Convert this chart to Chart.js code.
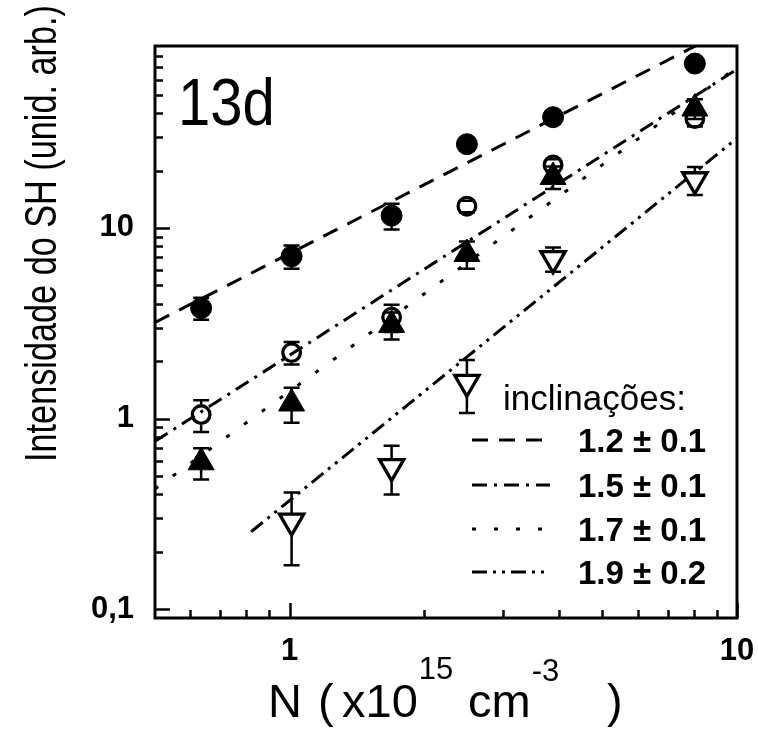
<!DOCTYPE html>
<html>
<head>
<meta charset="utf-8">
<script src="https://cdn.jsdelivr.net/npm/chart.js@4/dist/chart.umd.min.js"></script>
<style>
  html, body { margin: 0; padding: 0; background: #fff; }
  canvas { display: block; }
</style>
</head>
<body>
<canvas id="chart" width="758" height="729"></canvas>
<script>
// concentration N (x10^15 cm^-3) of each sample
const nValues = [0.634, 1.01, 1.69, 2.49, 3.88, 8.05];

// SH intensity (arb. units) and error for each symbol series
const solidCircle = [3.8, 7.1, 11.6, 27.5, 38.1, 72.8];
const solidCircleErr = [0.5, 1.0, 1.8, 2.0, 3.0, 5.0];
const openCircle = [1.05, 2.22, 3.4, 13.0, 21.4, 37.5];
const openCircleErr = [0.2, 0.3, 0.55, 0.9, 1.5, 3.5];
const solidTriangle = [0.59, 1.2, 3.1, 7.3, 18.5, 42.3];
const solidTriangleErr = [0.11, 0.25, 0.5, 1.2, 2.5, 5.0];
// the down triangles start at the second sample
const downTriangle = [0.29, 0.56, 1.55, 6.9, 17.9];
const downTriangleErr = [0.12, 0.16, 0.48, 1.0, 3.0];

// power-law fits y = amp * N^slope
const slopes = [1.2, 1.5, 1.7, 1.9];
const slopeErr = [0.1, 0.1, 0.1, 0.2];
const fitAmp = [7.34, 2.15, 1.39, 0.372];
const fitFrom = [0.5, 0.5, 0.5, 0.82];
const fitTo = [10, 10, 10, 10];
const fitDash = [[16, 11], [15, 7, 3, 7], [4, 18], [15, 6, 3, 6, 3, 6]];

const xTickVals = [1, 10];
const xTickText = ['1', '10'];
const yTickVals = [0.1, 1, 10];
const yTickText = ['0,1', '1', '10'];

const FONT = '"Liberation Sans", Arial, Helvetica, sans-serif';

function pts(xs, ys) {
  return ys.map((y, i) => ({ x: xs[i], y: y }));
}

function tickLabel(vals, texts) {
  return function (v) {
    for (let i = 0; i < vals.length; i++) {
      if (Math.abs(v - vals[i]) / vals[i] < 1e-6) return texts[i];
    }
    return '';
  };
}

const fitSets = slopes.map((s, i) => ({
  data: [
    { x: fitFrom[i], y: fitAmp[i] * Math.pow(fitFrom[i], s) },
    { x: fitTo[i], y: fitAmp[i] * Math.pow(fitTo[i], s) }
  ],
  showLine: true,
  borderColor: '#000',
  borderWidth: 3,
  borderDash: fitDash[i],
  pointRadius: 0,
  fill: false,
  order: 10
}));

const markerSets = [
  {
    data: pts(nValues, solidCircle), errors: solidCircleErr, gap: 0,
    pointStyle: 'circle', pointRadius: 10.5, pointBorderWidth: 1,
    backgroundColor: '#000', borderColor: '#000', order: 4
  },
  {
    data: pts(nValues, openCircle), errors: openCircleErr, gap: 10.5,
    pointStyle: 'circle', pointRadius: 8.8, pointBorderWidth: 3.3,
    backgroundColor: 'rgba(0,0,0,0)', borderColor: '#000', order: 3
  },
  {
    data: pts(nValues, solidTriangle), errors: solidTriangleErr, gap: 0,
    pointStyle: 'triangle', pointRadius: 15, pointBorderWidth: 1,
    backgroundColor: '#000', borderColor: '#000', order: 2
  },
  {
    data: pts(nValues.slice(1), downTriangle), errors: downTriangleErr, gap: 0,
    pointStyle: 'triangle', pointRotation: 180, pointRadius: 14, pointBorderWidth: 3.3,
    backgroundColor: '#fff', borderColor: '#000', order: 1
  }
];

// draws text squeezed or stretched along its own direction
function fitText(ctx, text, x, y, font, sx) {
  ctx.save();
  ctx.translate(x, y);
  ctx.scale(sx, 1);
  ctx.font = font;
  ctx.fillText(text, 0, 0);
  ctx.restore();
}

// error bars, frame, inward ticks and the free texts
const decor = {
  id: 'decor',
  beforeDatasetsDraw(chart) {
    const ctx = chart.ctx;
    const xs = chart.scales.x, ys = chart.scales.y;
    ctx.save();
    ctx.strokeStyle = '#000';
    ctx.lineWidth = 2.5;
    chart.data.datasets.forEach(ds => {
      if (!ds.errors) return;
      ds.data.forEach((p, i) => {
        const e = ds.errors[i];
        const px = xs.getPixelForValue(p.x);
        const pc = ys.getPixelForValue(p.y);
        const pt = ys.getPixelForValue(p.y + e);
        const pb = ys.getPixelForValue(p.y - e);
        ctx.beginPath();
        if (pt < pc - ds.gap) { ctx.moveTo(px, pt); ctx.lineTo(px, pc - ds.gap); }
        if (pb > pc + ds.gap) { ctx.moveTo(px, pc + ds.gap); ctx.lineTo(px, pb); }
        ctx.moveTo(px - 8, pt); ctx.lineTo(px + 8, pt);
        ctx.moveTo(px - 8, pb); ctx.lineTo(px + 8, pb);
        ctx.stroke();
      });
    });
    ctx.restore();
  },
  afterDatasetsDraw(chart) {
    const ctx = chart.ctx;
    const a = chart.chartArea;
    const xs = chart.scales.x, ys = chart.scales.y;
    ctx.save();
    ctx.strokeStyle = '#000';
    ctx.lineWidth = 2.5;
    ctx.beginPath();
    for (let d = -2; d <= 1; d++) {
      for (let m = 1; m <= 9; m++) {
        const v = Number((m * Math.pow(10, d)).toPrecision(3));
        const len = m === 1 ? 15 : 8;
        if (v > ys.min && v < ys.max) {
          const py = Math.round(ys.getPixelForValue(v)) + 0.5;
          ctx.moveTo(a.left, py); ctx.lineTo(a.left + len, py);
        }
        if (v > xs.min && v <= xs.max) {
          const px = Math.round(xs.getPixelForValue(v)) + 0.5;
          ctx.moveTo(px, a.bottom); ctx.lineTo(px, a.bottom - len);
        }
      }
    }
    ctx.stroke();
    ctx.lineWidth = 3;
    ctx.strokeRect(a.left, a.top, a.right - a.left, a.bottom - a.top);
    ctx.restore();
  },
  afterDraw(chart) {
    const ctx = chart.ctx;
    ctx.save();
    ctx.fillStyle = '#000';
    ctx.textBaseline = 'alphabetic';

    // panel tag
    fitText(ctx, '13d', 178, 125, '66px ' + FONT, 0.88);

    // slope key
    ctx.font = '35px ' + FONT;
    ctx.fillText('inclinações:', 503, 410);
    const rowBase = [452, 497, 541, 584];
    ctx.strokeStyle = '#000';
    ctx.lineWidth = 3;
    slopes.forEach((s, i) => {
      const y = rowBase[i] - 12;
      ctx.setLineDash(fitDash[i]);
      ctx.beginPath();
      ctx.moveTo(472, y); ctx.lineTo(550, y);
      ctx.stroke();
      ctx.setLineDash([]);
      ctx.font = 'bold 33px ' + FONT;
      ctx.fillText(s.toFixed(1) + ' \u00b1 ' + slopeErr[i].toFixed(1), 578, rowBase[i]);
    });

    // y axis title, read bottom to top
    ctx.save();
    ctx.translate(56, 462);
    ctx.rotate(-Math.PI / 2);
    ctx.font = '44px ' + FONT;
    const yTitle = 'Intensidade do SH (unid. arb.)';
    const w = ctx.measureText(yTitle).width;
    fitText(ctx, yTitle, 0, 0, '44px ' + FONT, 457 / w);
    ctx.restore();

    // x axis title with superscripts
    const big = '47px ' + FONT, small = '31px ' + FONT;
    ctx.font = big;
    ctx.fillText('N', 268, 717);
    ctx.fillText('(', 318, 717);
    ctx.fillText('x10', 342, 717);
    let x = 342 + ctx.measureText('x10').width;
    ctx.font = small;
    ctx.fillText('15', x + 1, 679);
    ctx.font = big;
    ctx.fillText('cm', 468, 717);
    x = 468 + ctx.measureText('cm').width;
    ctx.font = small;
    ctx.fillText('-3', x + 1, 681);
    ctx.font = big;
    ctx.fillText(')', 607, 717);
    ctx.restore();
  }
};

new Chart(document.getElementById('chart'), {
  type: 'scatter',
  data: { datasets: fitSets.concat(markerSets) },
  options: {
    responsive: false,
    animation: false,
    devicePixelRatio: 1,
    events: [],
    layout: { padding: { top: 46, right: 21, left: 0, bottom: 0 } },
    plugins: { legend: { display: false }, tooltip: { enabled: false } },
    scales: {
      x: {
        type: 'logarithmic', min: 0.5, max: 10,
        grid: { display: false, drawTicks: false }, border: { display: false },
        ticks: {
          autoSkip: false, maxRotation: 0, minRotation: 0, padding: 15, color: '#000',
          font: { family: FONT, size: 31, weight: 'bold' },
          callback: tickLabel(xTickVals, xTickText)
        },
        afterFit(scale) {
          scale.height = 111;
          scale.paddingLeft = 0;
          scale.paddingRight = 0;
        }
      },
      y: {
        type: 'logarithmic', min: 0.09, max: 90,
        grid: { display: false, drawTicks: false }, border: { display: false },
        ticks: {
          autoSkip: false, padding: 21, color: '#000',
          font: { family: FONT, size: 31, weight: 'bold' },
          callback: tickLabel(yTickVals, yTickText)
        },
        afterFit(scale) {
          scale.width = 155;
          scale.paddingTop = 0;
          scale.paddingBottom = 0;
        }
      }
    }
  },
  plugins: [decor]
});
</script>
</body>
</html>
